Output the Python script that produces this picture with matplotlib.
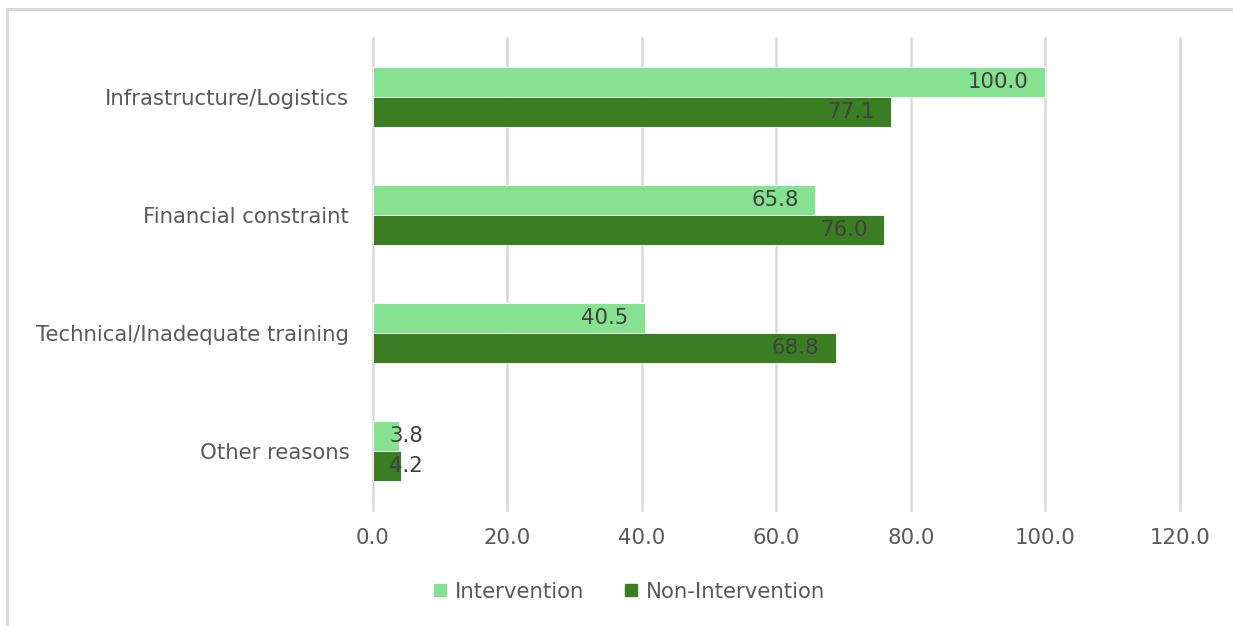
import numpy as np
import matplotlib.pyplot as plt
from matplotlib.lines import Line2D

categories = ["Infrastructure/Logistics", "Financial constraint",
              "Technical/Inadequate training", "Other reasons"]
intervention = [100.0, 65.8, 40.5, 3.8]
non_intervention = [77.1, 76.0, 68.8, 4.2]
xticks = [0, 20, 40, 60, 80, 100, 120]

light = "#86E291"
dark = "#3A7D22"
txt = "#404040"
grey = "#595959"

plt.rcParams["font.family"] = ["DejaVu Sans"]
fs = 15.3

fig = plt.figure(figsize=(12.33, 6.26), dpi=100)
ax = fig.add_axes([0.3025, 0.185, 0.6545, 0.754])

y = np.arange(len(categories))
h = 0.255
ax.barh(y - h / 2, intervention, height=h, color=light, edgecolor="white", lw=0.6,
        label="Intervention", zorder=3)
ax.barh(y + h / 2, non_intervention, height=h, color=dark, edgecolor="white", lw=0.6,
        label="Non-Intervention", zorder=3)

# value labels at the inside end of each bar
for yy, vals in ((y - h / 2, intervention), (y + h / 2, non_intervention)):
    for yi, v in zip(yy, vals):
        if v > 10:
            ax.text(v - 2.5, yi, f"{v:.1f}", ha="right", va="center",
                    fontsize=fs, color=txt, zorder=4)
        else:
            ax.text(2.4, yi, f"{v:.1f}", ha="left", va="center",
                    fontsize=fs, color=txt, zorder=4)

ax.set_xlim(0, 120)
ax.set_ylim(len(categories) - 0.5, -0.5)
ax.set_xticks(xticks)
ax.set_xticklabels([f"{t:.1f}" for t in xticks])
ax.set_yticks(y)
ax.set_yticklabels(categories)
ax.tick_params(axis="both", length=0, labelsize=fs, labelcolor=grey)
ax.tick_params(axis="x", pad=13)
ax.tick_params(axis="y", pad=17)
ax.grid(axis="x", color="#D9D9D9", lw=1.8, zorder=0)
for gl in ax.get_xgridlines():
    gl.set_clip_on(False)
for s in ax.spines.values():
    s.set_visible(False)

handles = [Line2D([], [], marker="s", ls="", ms=9, color=light),
           Line2D([], [], marker="s", ls="", ms=9, color=dark)]
fig.legend(handles, ["Intervention", "Non-Intervention"], loc="center",
           bbox_to_anchor=(0.5097, 0.055), ncol=2, frameon=False, fontsize=fs,
           labelcolor=grey, handlelength=0.8, handletextpad=0.3,
           columnspacing=1.8)

# chart area border (top and left edges visible)
fig.add_artist(Line2D([0.006, 1.0], [0.986, 0.986], color="#D9D9D9", lw=2.2,
                      transform=fig.transFigure))
fig.add_artist(Line2D([0.006, 0.006], [0.0, 0.986], color="#D9D9D9", lw=2.2,
                      transform=fig.transFigure))

fig.savefig("out.png", dpi=100)
